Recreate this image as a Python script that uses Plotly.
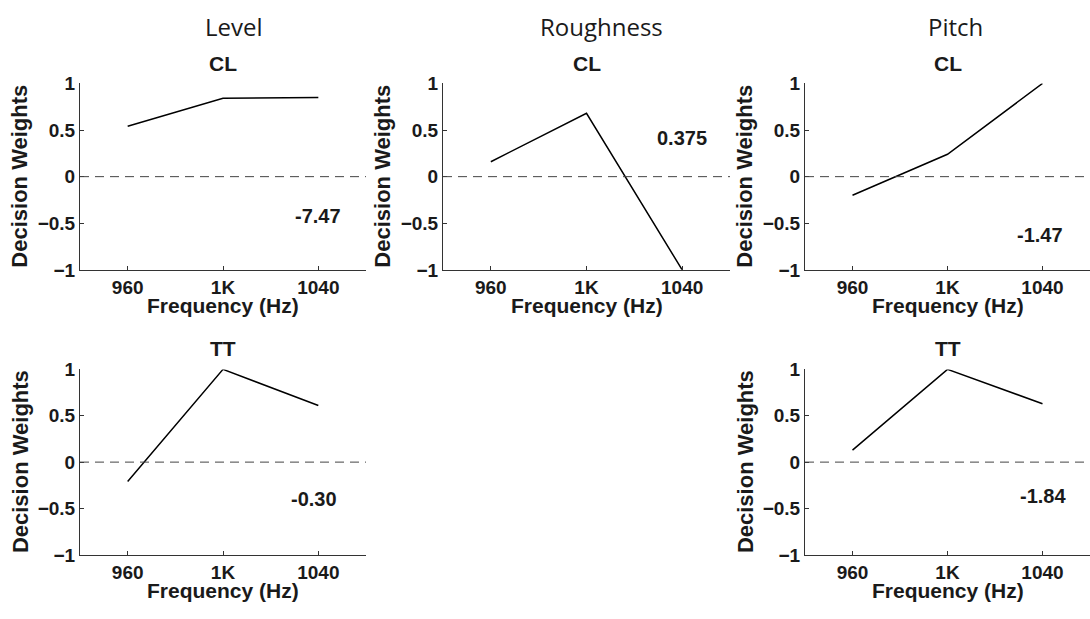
import plotly.graph_objects as go

# ---------------- data ----------------
freqs = [960, 1000, 1040]
freq_labels = ["960", "1K", "1040"]
ytick_vals = [-1, -0.5, 0, 0.5, 1]
ytick_text = ["\u22121", "\u22120.5", "0", "0.5", "1"]

column_titles = ["Level", "Roughness", "Pitch"]

level_cl = [0.54, 0.84, 0.85]
roughness_cl = [0.16, 0.68, -1.0]
pitch_cl = [-0.20, 0.24, 1.0]
level_tt = [-0.21, 1.0, 0.61]
pitch_tt = [0.13, 1.0, 0.63]

# panel: (column, row, subtitle, values, note text, note x, note y)
panels = [
    (0, 0, "CL", level_cl, "-7.47", 1040, -0.42),
    (1, 0, "CL", roughness_cl, "0.375", 1040, 0.41),
    (2, 0, "CL", pitch_cl, "-1.47", 1039, -0.63),
    (0, 1, "TT", level_tt, "-0.30", 1038, -0.40),
    (2, 1, "TT", pitch_tt, "-1.84", 1040, -0.37),
]

# ---------------- layout geometry (pixels) ----------------
W, H = 1090, 619
col_px = [(80, 366), (443, 730), (805, 1090)]
row_px = [(76, 269), (372, 564)]
col_title_x = [234, 601, 955]
sub_title_y = [55, 350]

FONT = "Liberation Sans, Arial, Helvetica, sans-serif"
TXT = "#1a1a1a"


def px_x(p):
    return p / W


def px_y(p):
    return 1 - p / H


fig = go.Figure()
annotations = []
shapes = []
layout_axes = {}

for i, (c, r, sub, vals, note, nx, ny) in enumerate(panels):
    n = i + 1
    xa = "x" if n == 1 else f"x{n}"
    ya = "y" if n == 1 else f"y{n}"
    xkey = "xaxis" if n == 1 else f"xaxis{n}"
    ykey = "yaxis" if n == 1 else f"yaxis{n}"
    x0, x1 = col_px[c]
    yt, yb = row_px[r]

    fig.add_trace(go.Scatter(
        x=freqs, y=vals, mode="lines",
        line=dict(color="black", width=1.5),
        xaxis=xa, yaxis=ya, showlegend=False, hoverinfo="skip",
    ))

    layout_axes[xkey] = dict(
        domain=[px_x(x0), min(px_x(x1), 1.0)], anchor=ya,
        range=[940, 1060], tickvals=freqs, ticktext=freq_labels,
        showline=True, linecolor="#333333", linewidth=1,
        ticks="inside", ticklen=4, tickcolor="#333333",
        showgrid=False, zeroline=False, fixedrange=True,
        tickfont=dict(family=FONT, size=19, color=TXT, weight="bold"),
    )
    layout_axes[ykey] = dict(
        domain=[px_y(yb), px_y(yt)], anchor=xa,
        range=[-1, 1], tickvals=ytick_vals, ticktext=ytick_text,
        showline=True, linecolor="#333333", linewidth=1,
        ticks="inside", ticklen=4, tickcolor="#333333",
        showgrid=False, zeroline=False, fixedrange=True,
        tickfont=dict(family=FONT, size=19, color=TXT, weight="bold"),
    )

    # dashed zero reference line
    shapes.append(dict(
        type="line", xref=f"{xa} domain", yref=ya, x0=0, x1=1, y0=0, y1=0,
        line=dict(color="#444444", width=1, dash="9px,6px"),
    ))

    # subtitle (CL / TT)
    annotations.append(dict(
        text=sub, xref="paper", yref="paper",
        x=px_x((x0 + x1) / 2), y=px_y(sub_title_y[r]),
        showarrow=False, xanchor="center", yanchor="middle",
        font=dict(family=FONT, size=21, color=TXT, weight="bold"),
    ))
    # x title
    annotations.append(dict(
        text="Frequency (Hz)", xref="paper", yref="paper",
        x=px_x((x0 + x1) / 2), y=px_y(yb + 37),
        showarrow=False, xanchor="center", yanchor="middle",
        font=dict(family=FONT, size=21, color=TXT, weight="bold"),
    ))
    # y title
    annotations.append(dict(
        text="Decision Weights", xref="paper", yref="paper",
        x=px_x(x0 - 60), y=px_y((yt + yb) / 2), textangle=-90,
        showarrow=False, xanchor="center", yanchor="middle",
        font=dict(family=FONT, size=22, color=TXT, weight="bold"),
    ))
    # value note
    annotations.append(dict(
        text=note, xref=xa, yref=ya, x=nx, y=ny,
        showarrow=False, xanchor="center", yanchor="middle",
        font=dict(family=FONT, size=20, color=TXT, weight="bold"),
    ))

for t, cx in zip(column_titles, col_title_x):
    annotations.append(dict(
        text=t, xref="paper", yref="paper", x=px_x(cx), y=px_y(17),
        showarrow=False, xanchor="center", yanchor="middle",
        font=dict(family="Open Sans, Noto Sans, sans-serif", size=24, color=TXT),
    ))

fig.update_layout(
    width=W, height=H,
    margin=dict(l=0, r=0, t=0, b=0),
    paper_bgcolor="white", plot_bgcolor="white",
    annotations=annotations, shapes=shapes,
    **layout_axes,
)

fig.write_html("out.html")
